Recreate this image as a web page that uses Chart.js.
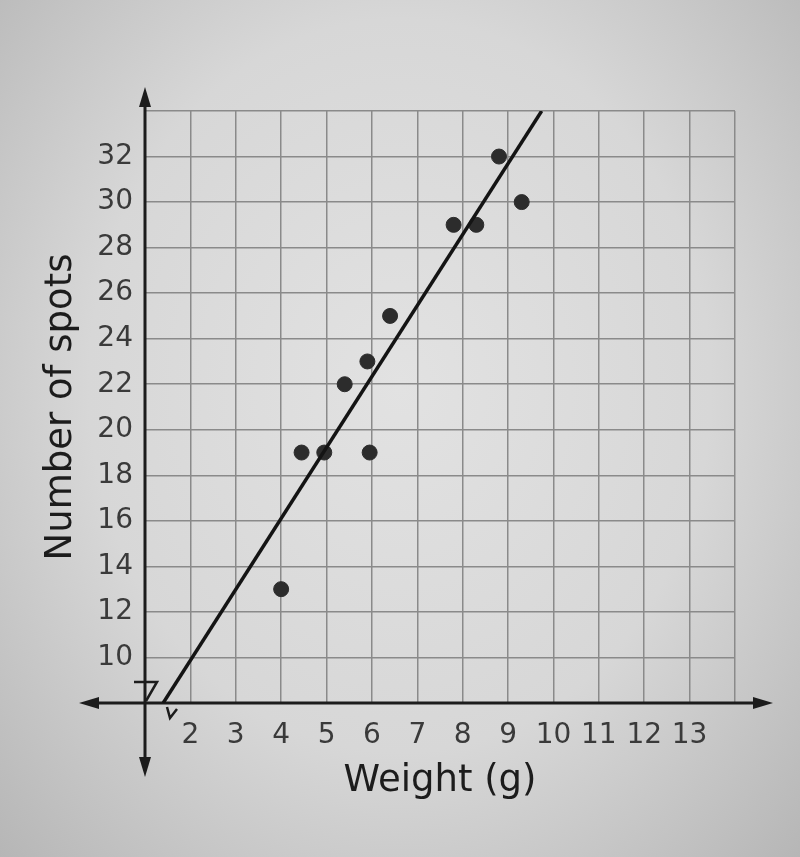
<!DOCTYPE html>
<html>
<head>
<meta charset="utf-8">
<script src="https://cdn.jsdelivr.net/npm/chart.js@4/dist/chart.umd.min.js"></script>
<style>
    html, body { margin: 0; padding: 0; }
    body {
        width: 800px;
        height: 857px;
        background: radial-gradient(ellipse at 50% 45%, #e2e2e2 0%, #d7d7d7 55%, #b6b6b6 100%);
    }
    #wrap { width: 800px; height: 857px; }
</style>
</head>
<body>
<div id="wrap"><canvas id="chart"></canvas></div>
<script>
// data
const weights = [4.0, 4.45, 4.95, 5.95, 5.4, 5.9, 6.4, 7.8, 8.3, 8.8, 9.3];
const spots = [13, 19, 19, 19, 22, 23, 25, 29, 29, 32, 30];
const fitWeights = [1.4, 9.74];
const fitSpots = [8, 34];
const xTickLabels = [2, 3, 4, 5, 6, 7, 8, 9, 10, 11, 12, 13];
const yTickLabels = [10, 12, 14, 16, 18, 20, 22, 24, 26, 28, 30, 32];

const ink = '#1c1c1c';
const tickFont = { family: 'DejaVu Sans', size: 28 };
const titleFont = { family: 'DejaVu Sans', size: 37 };

// axes with arrows and the little break marks, drawn under the data
const axesPlugin = {
    id: 'axesPlugin',
    beforeDatasetsDraw(chart) {
        const ctx = chart.ctx;
        const area = chart.chartArea;
        const x0 = chart.scales.x.getPixelForValue(1);
        const y0 = chart.scales.y.getPixelForValue(8);
        ctx.save();
        ctx.strokeStyle = ink;
        ctx.fillStyle = ink;
        ctx.lineWidth = 3;

        // y axis
        ctx.beginPath();
        ctx.moveTo(x0, area.top - 10);
        ctx.lineTo(x0, y0 + 60);
        ctx.stroke();
        // x axis
        ctx.beginPath();
        ctx.moveTo(x0 - 50, y0);
        ctx.lineTo(area.right + 20, y0);
        ctx.stroke();

        function arrow(tx, ty, dx, dy) {
            // dx, dy: direction the arrow points to
            let len = 20, half = 6;
            let bx = tx - dx * len, by = ty - dy * len;
            ctx.beginPath();
            ctx.moveTo(tx, ty);
            ctx.lineTo(bx - dy * half, by + dx * half);
            ctx.lineTo(bx + dy * half, by - dx * half);
            ctx.closePath();
            ctx.fill();
        }
        arrow(x0, area.top - 24, 0, -1);
        arrow(x0, y0 + 74, 0, 1);
        arrow(x0 - 66, y0, -1, 0);
        arrow(area.right + 38, y0, 1, 0);

        // break on the y axis
        ctx.lineWidth = 2.5;
        ctx.beginPath();
        ctx.moveTo(x0 - 11, y0 - 21);
        ctx.lineTo(x0 + 12, y0 - 21);
        ctx.lineTo(x0 + 1, y0 - 2);
        ctx.stroke();
        // break on the x axis
        ctx.beginPath();
        ctx.moveTo(x0 + 22, y0 + 4);
        ctx.lineTo(x0 + 25, y0 + 15);
        ctx.lineTo(x0 + 32, y0 + 6);
        ctx.stroke();
        ctx.restore();
    }
};

new Chart(document.getElementById('chart'), {
    type: 'scatter',
    data: {
        datasets: [{
            type: 'line',
            data: fitWeights.map((w, i) => ({ x: w, y: fitSpots[i] })),
            borderColor: '#141414',
            borderWidth: 3.5,
            pointRadius: 0,
            fill: false
        }, {
            data: weights.map((w, i) => ({ x: w, y: spots[i] })),
            backgroundColor: '#2c2c2c',
            borderColor: '#2c2c2c',
            pointRadius: 7.5,
            pointHoverRadius: 7.5
        }]
    },
    options: {
        responsive: true,
        maintainAspectRatio: false,
        animation: false,
        events: [],
        layout: { padding: { top: 111, right: 65, left: 0, bottom: 0 } },
        plugins: {
            legend: { display: false },
            tooltip: { enabled: false }
        },
        scales: {
            x: {
                type: 'linear',
                min: 1,
                max: 14,
                afterFit: s => { s.height = 154; },
                grid: { color: '#8a8a8a', lineWidth: 1.5, drawTicks: false },
                border: { display: false },
                ticks: {
                    stepSize: 1,
                    padding: 16,
                    color: '#3a3a3a',
                    font: tickFont,
                    maxRotation: 0,
                    autoSkip: false,
                    callback: v => xTickLabels.includes(v) ? String(v) : ''
                },
                title: {
                    display: true,
                    text: 'Weight (g)',
                    color: ink,
                    font: titleFont,
                    padding: { top: 0, bottom: 53 }
                }
            },
            y: {
                type: 'linear',
                min: 8,
                max: 34,
                afterFit: s => { s.width = 145; },
                grid: { color: '#8a8a8a', lineWidth: 1.5, drawTicks: false },
                border: { display: false },
                ticks: {
                    stepSize: 2,
                    padding: 12,
                    color: '#3a3a3a',
                    font: tickFont,
                    autoSkip: false,
                    callback: v => yTickLabels.includes(v) ? String(v) : ''
                },
                title: {
                    display: true,
                    text: 'Number of spots',
                    color: ink,
                    font: titleFont,
                    padding: { top: 39, bottom: 0 }
                }
            }
        }
    },
    plugins: [axesPlugin]
});
</script>
</body>
</html>
